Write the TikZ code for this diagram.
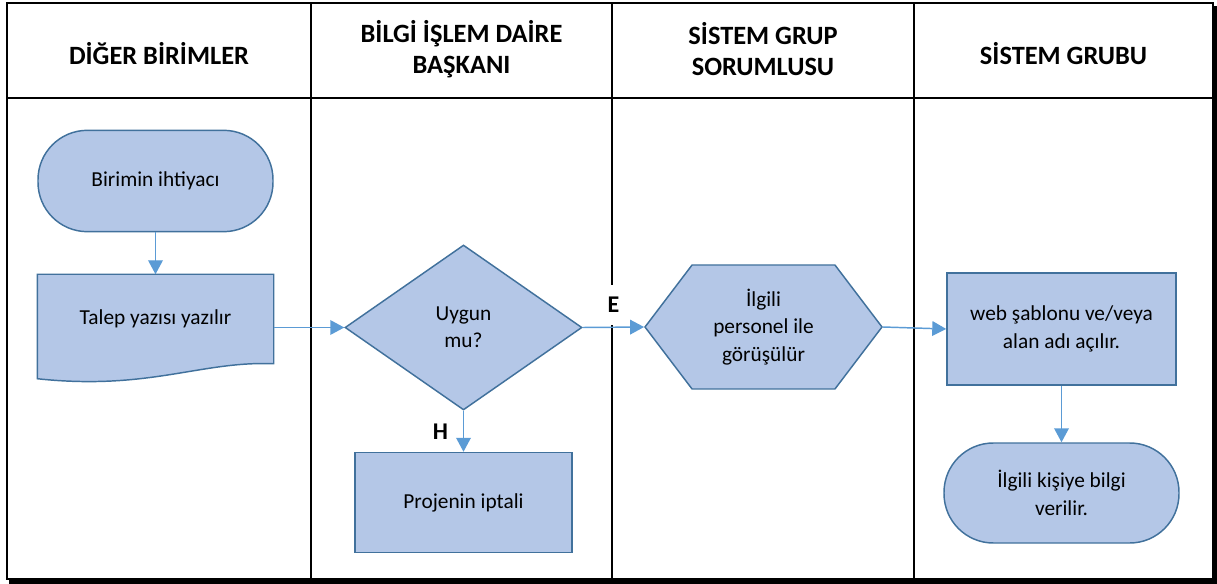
\documentclass[tikz,border=0pt]{standalone}
\usepackage{fontspec}
\setmainfont{Carlito}
\usetikzlibrary{calc,backgrounds,arrows.meta,shapes.geometric,shapes.symbols}

\definecolor{boxfill}{HTML}{B4C7E7}
\definecolor{boxline}{HTML}{41719C}
\definecolor{flowline}{HTML}{5B9BD5}

\begin{document}
\begin{tikzpicture}[x=0.75pt,y=-0.75pt]
 \tikzstyle{arrow}    = [-{Triangle[length=10.5pt,width=11pt]},draw=flowline,line width=1.1pt];
 \tikzstyle{lane}     = [draw=black,line width=1.6pt];
 \tikzstyle{head}     = [font=\bfseries\fontsize{19.8}{23}\selectfont,align=center];
 \tikzstyle{flowbox}  = [draw=boxline,fill=boxfill,line width=1.1pt,font=\fontsize{16}{20.5}\selectfont,align=center];
 \tikzstyle{terminal} = [flowbox,rectangle,rounded corners=37pt,minimum width=176.25pt,minimum height=76pt];
 \tikzstyle{process}  = [flowbox,rectangle];
 \tikzstyle{decision} = [flowbox,diamond,inner sep=0pt,minimum width=177.75pt,minimum height=123.75pt];
 \tikzstyle{prepare}  = [flowbox,signal,signal to=west and east,signal pointer angle=105.6,
                         minimum width=177.75pt,minimum height=93pt,inner sep=0pt];
 \tikzstyle{answer}   = [font=\bfseries\fontsize{18}{20}\selectfont,inner sep=0pt];

 \useasboundingbox (0,0) rectangle (1217,584);

 %% lanes
 \draw[lane] (7,3) rectangle (1213,579);
 \draw[lane] (7,98) -- (1213,98);
 \foreach \x in {311,612,914}
   \draw[lane] (\x,3) -- (\x,579);
 \fill (1212,6) rectangle (1217,584);
 \fill (9,578) rectangle (1217,584);

 \node[head, name=hdiger] at (159,54)    {DİĞER BİRİMLER};
 \node[head, name=hbilgi] at (461.5,49)  {BİLGİ İŞLEM DAİRE\\BAŞKANI};
 \node[head, name=hsorum] at (763,49)    {SİSTEM GRUP\\SORUMLUSU};
 \node[head, name=hgrup]  at (1063.5,54) {SİSTEM GRUBU};

 %% lane [1]
 \node[terminal, name=start] at (155.5,181) {Birimin ihtiyacı};
 \node[flowbox, draw=none, fill=none, name=talep, minimum width=176.25pt, minimum height=66pt,
       below of=start, node distance=103.5pt] {Talep yazısı yazılır};
 \begin{scope}[on background layer]
   \draw[flowbox] (talep.south east) -- (talep.north east) -- (talep.north west)
     -- ($(talep.south west)+(0,15)$)
     .. controls ($(talep.south west)+(112,27)$) and ($(talep.south east)+(-73,-3)$) .. (talep.south east)
     -- cycle;
 \end{scope}

 %% lane [2]
 \node[decision, name=uygun] at (463.5,327.5) {Uygun\\mu?};
 \node[process, name=iptal, minimum width=162.75pt, minimum height=75pt,
       below of=uygun, node distance=131.25pt] {Projenin iptali};

 %% lane [3]
 \node[prepare, name=gorus] at (763.5,327) {İlgili\\personel ile\\görüşülür};

 %% lane [4]
 \node[process, name=sablon, minimum width=171.75pt, minimum height=84pt] at (1061.5,329)
   {web şablonu ve/veya\\alan adı açılır.};
 \node[terminal, name=bilgi, minimum height=75pt, below of=sablon, node distance=123pt]
   {İlgili kişiye bilgi\\verilir.};

 \draw[arrow] (start) -- (talep);
 \draw[arrow] (talep.east |- uygun.west) -- (uygun.west);
 \draw[arrow] (uygun.south) -- node[answer, left=11pt] {H} (iptal.north);
 \draw[arrow] (uygun.east) -- node[answer, above=1pt, fill=white, minimum height=30pt, minimum width=12pt] {E} (gorus.west);
 \draw[arrow] (gorus.east) -- (sablon.west);
 \draw[arrow] (sablon.south) -- (sablon.south |- bilgi.north);

\end{tikzpicture}
\end{document}
